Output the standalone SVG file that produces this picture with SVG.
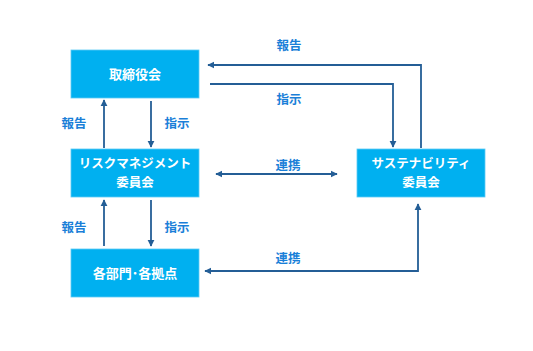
<svg xmlns="http://www.w3.org/2000/svg" width="533" height="351" viewBox="0 0 533 351">
<style>
.box{fill:#00B0F0;stroke:#5CCBF5;stroke-width:0.8}
.bt{fill:#fff;font-family:"Noto Sans CJK JP","Noto Sans",sans-serif;font-weight:bold;font-size:13px;text-anchor:middle}
.bt2{font-size:12.5px}
.lb{fill:#1A7FD8;font-family:"Noto Sans CJK JP","Noto Sans",sans-serif;font-weight:bold;font-size:12.5px;text-anchor:middle}
.ln{fill:none;stroke:#245E96;stroke-width:1.8}
</style>
<defs>
<marker id="ah" viewBox="0 0 10 10" refX="9" refY="5" markerWidth="4" markerHeight="4" orient="auto-start-reverse"><path d="M0,0 L10,5 L0,10 Z" fill="#245E96"/></marker>
</defs>
<rect width="533" height="351" fill="#fff"/>
<g id="board"><rect class="box" x="71" y="50" width="128" height="48"/><text class="bt" x="135" y="79">取締役会</text></g>
<g id="risk"><rect class="box" x="71" y="149" width="128" height="48"/><text class="bt bt2" x="135" y="168">リスクマネジメント</text><text class="bt bt2" x="135" y="186.5">委員会</text></g>
<g id="sustain"><rect class="box" x="357" y="149" width="128" height="48"/><text class="bt bt2" x="421" y="168">サステナビリティ</text><text class="bt bt2" x="421" y="186.5">委員会</text></g>
<g id="depts"><rect class="box" x="71" y="249" width="128" height="48"/><text class="bt" x="135" y="278">各部門･各拠点</text></g>
<g id="connectors">
<polyline class="ln" points="421,148 421,65 208,65" marker-end="url(#ah)"/>
<polyline class="ln" points="210,84 393,84 393,147" marker-end="url(#ah)"/>
<line class="ln" x1="104" y1="148" x2="104" y2="100" marker-end="url(#ah)"/>
<line class="ln" x1="151" y1="101" x2="151" y2="147" marker-end="url(#ah)"/>
<line class="ln" x1="104" y1="246" x2="104" y2="200" marker-end="url(#ah)"/>
<line class="ln" x1="151" y1="200" x2="151" y2="246" marker-end="url(#ah)"/>
<line class="ln" x1="216" y1="174" x2="337" y2="174" marker-start="url(#ah)" marker-end="url(#ah)"/>
<polyline class="ln" points="205,271 418,271 418,204" marker-start="url(#ah)" marker-end="url(#ah)"/>
</g>
<g id="labels">
<text class="lb" x="289" y="50">報告</text>
<text class="lb" x="289" y="104">指示</text>
<text class="lb" x="74" y="128">報告</text>
<text class="lb" x="177" y="128">指示</text>
<text class="lb" x="288" y="170">連携</text>
<text class="lb" x="74" y="232">報告</text>
<text class="lb" x="177" y="232">指示</text>
<text class="lb" x="288" y="263">連携</text>
</g>
</svg>
